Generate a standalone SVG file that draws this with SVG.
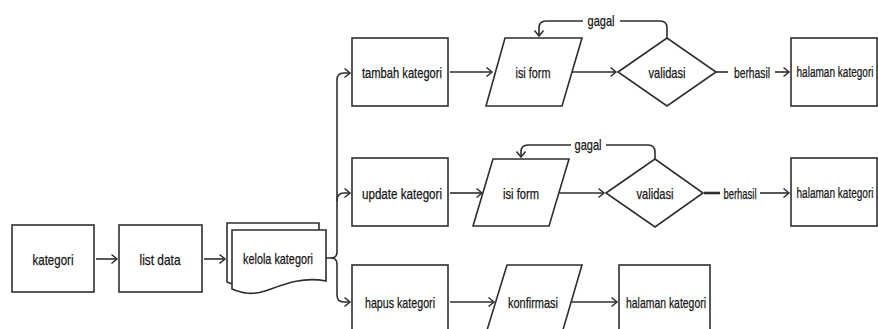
<svg xmlns="http://www.w3.org/2000/svg" width="878" height="329" viewBox="0 0 878 329">
<style>
  .shape{fill:#fff;stroke:#2e2e2e;stroke-width:1.6}
  .lbl{font-family:"Liberation Sans",Arial,sans-serif;font-size:15px;fill:#151515;stroke:#151515;stroke-width:0.25;text-anchor:middle;dominant-baseline:central}
  .edge{fill:none;stroke:#2e2e2e;stroke-width:1.6}
  .thick{stroke-width:2.6}
</style>
<defs>
  <marker id="arr" markerUnits="userSpaceOnUse" markerWidth="10" markerHeight="12" refX="7" refY="6" orient="auto">
    <path d="M1.5,1.5 L7,6 L1.5,10.5" fill="none" stroke="#2e2e2e" stroke-width="1.5"/>
  </marker>
</defs>
<rect width="878" height="329" fill="#fff"/>

<g id="connectors">
  <path class="edge" d="M96,259 H117" marker-end="url(#arr)"/>
  <path class="edge" d="M204,259 H225" marker-end="url(#arr)"/>
  <path class="edge" d="M326,258 H331 Q337,258 337,252 V80 Q337,73 344,73 H350" marker-end="url(#arr)"/>
  <path class="edge" d="M337,201 Q337,193 344,193 H350" marker-end="url(#arr)"/>
  <path class="edge" d="M331,258 Q337,258 337,264 V295 Q337,302 344,302 H350" marker-end="url(#arr)"/>
  <path class="edge" d="M450,72 H492" marker-end="url(#arr)"/>
  <path class="edge" d="M572,72 H616" marker-end="url(#arr)"/>
  <path class="edge" d="M667,38 V28 Q667,21 660,21 H620"/>
  <path class="edge" d="M583,21 H546 Q539,21 539,28 V36" marker-end="url(#arr)"/>
  <path class="edge" d="M716,72 H728"/>
  <path class="edge" d="M775,72 H789" marker-end="url(#arr)"/>
  <path class="edge" d="M450,193 H482" marker-end="url(#arr)"/>
  <path class="edge" d="M559,193 H604" marker-end="url(#arr)"/>
  <path class="edge" d="M655,159 V152 Q655,145 648,145 H606"/>
  <path class="edge" d="M571,145 H528 Q521,145 521,152 V157" marker-end="url(#arr)"/>
  <path class="edge thick" d="M704,193 H720"/>
  <path class="edge" d="M760,193 H789" marker-end="url(#arr)"/>
  <path class="edge" d="M450,302 H494" marker-end="url(#arr)"/>
  <path class="edge" d="M572,302 H617" marker-end="url(#arr)"/>
  <text class="lbl" x="601" y="20" textLength="27" lengthAdjust="spacingAndGlyphs">gagal</text>
  <text class="lbl" x="752" y="72" textLength="36" lengthAdjust="spacingAndGlyphs">berhasil</text>
  <text class="lbl" x="588" y="144" textLength="27" lengthAdjust="spacingAndGlyphs">gagal</text>
  <text class="lbl" x="740" y="193" textLength="33" lengthAdjust="spacingAndGlyphs">berhasil</text>
</g>

<g id="kategori">
  <rect class="shape" x="12" y="225" width="82" height="67"/>
  <text class="lbl" x="53" y="259" textLength="41" lengthAdjust="spacingAndGlyphs">kategori</text>
</g>
<g id="list-data">
  <rect class="shape" x="119" y="225" width="83" height="67"/>
  <text class="lbl" x="160" y="259" textLength="41" lengthAdjust="spacingAndGlyphs">list data</text>
</g>
<g id="kelola-kategori">
  <path class="shape" d="M227,223 H319 V274 C293,269 273,279 258,284 C243,289 235,285 227,282 Z"/>
  <path class="shape" d="M232,230 H326 V281 C300,276 280,286 265,291 C250,296 240,292 232,289 Z"/>
  <text class="lbl" x="278" y="258" textLength="70" lengthAdjust="spacingAndGlyphs">kelola kategori</text>
</g>

<g id="tambah-kategori">
  <rect class="shape" x="352" y="38" width="96" height="68"/>
  <text class="lbl" x="402" y="72" textLength="80" lengthAdjust="spacingAndGlyphs">tambah kategori</text>
</g>
<g id="isi-form-1">
  <polygon class="shape" points="505,38 582,38 562,106 486,106"/>
  <text class="lbl" x="533" y="72" textLength="35" lengthAdjust="spacingAndGlyphs">isi form</text>
</g>
<g id="validasi-1">
  <polygon class="shape" points="618,72 667,38 716,72 667,106"/>
  <text class="lbl" x="667" y="72" textLength="37" lengthAdjust="spacingAndGlyphs">validasi</text>
</g>
<g id="halaman-kategori-1">
  <rect class="shape" x="791" y="38" width="86" height="68"/>
  <text class="lbl" transform="translate(835,72) scale(0.67,1)" x="0" y="0">halaman kategori</text>
</g>

<g id="update-kategori">
  <rect class="shape" x="352" y="158" width="96" height="68"/>
  <text class="lbl" x="402" y="193" textLength="80" lengthAdjust="spacingAndGlyphs">update kategori</text>
</g>
<g id="isi-form-2">
  <polygon class="shape" points="493,159 569,159 549,226 473,226"/>
  <text class="lbl" x="521" y="193" textLength="36" lengthAdjust="spacingAndGlyphs">isi form</text>
</g>
<g id="validasi-2">
  <polygon class="shape" points="606,193 655,159 703,193 655,227"/>
  <text class="lbl" x="655" y="193" textLength="37" lengthAdjust="spacingAndGlyphs">validasi</text>
</g>
<g id="halaman-kategori-2">
  <rect class="shape" x="791" y="158" width="86" height="68"/>
  <text class="lbl" transform="translate(835,193) scale(0.67,1)" x="0" y="0">halaman kategori</text>
</g>

<g id="hapus-kategori">
  <rect class="shape" x="352" y="265" width="96" height="75"/>
  <text class="lbl" x="400" y="302" textLength="70" lengthAdjust="spacingAndGlyphs">hapus kategori</text>
</g>
<g id="konfirmasi">
  <polygon class="shape" points="507,265 582,265 560,340 484,340"/>
  <text class="lbl" x="533" y="302" textLength="50" lengthAdjust="spacingAndGlyphs">konfirmasi</text>
</g>
<g id="halaman-kategori-3">
  <rect class="shape" x="619" y="265" width="91" height="75"/>
  <text class="lbl" x="666" y="302" textLength="80" lengthAdjust="spacingAndGlyphs">halaman kategori</text>
</g>
</svg>
